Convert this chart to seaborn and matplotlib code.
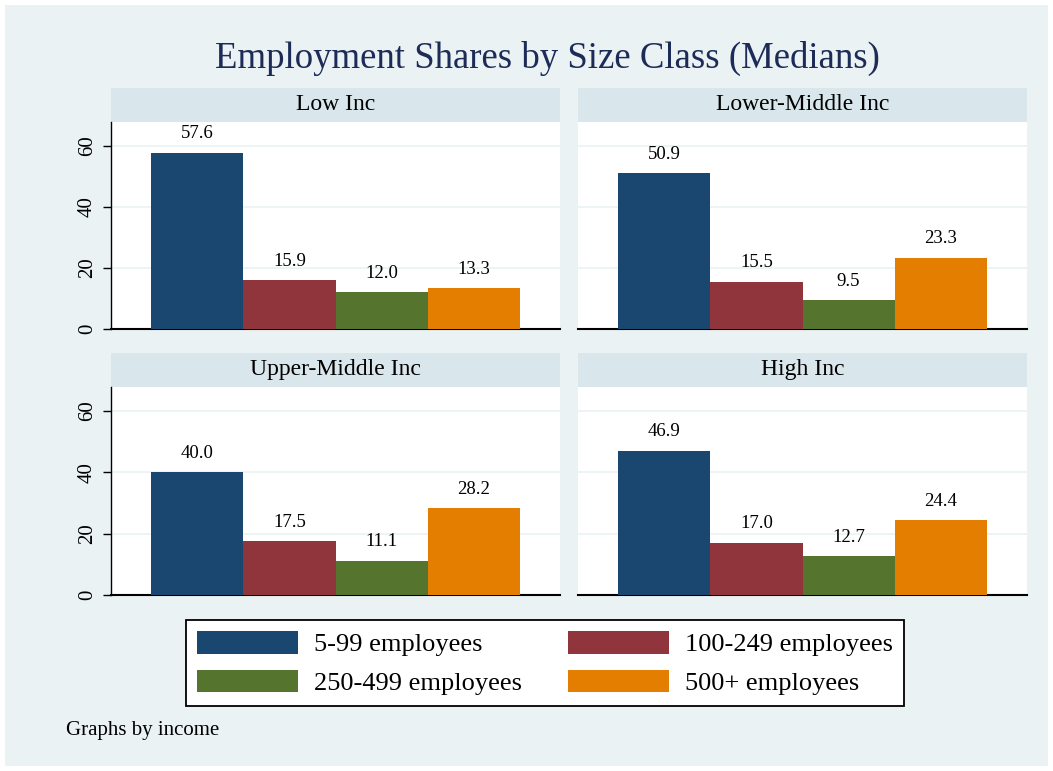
import matplotlib
matplotlib.use('Agg')
import matplotlib.pyplot as plt
import matplotlib.patches as mpatches
import pandas as pd
import seaborn as sns

sns.set_style('white')
plt.rcParams['font.family'] = ['Liberation Serif', 'DejaVu Serif']
plt.rcParams['text.color'] = 'black'
plt.rcParams['ytick.color'] = 'black'

# data
incomes = ['Low Inc', 'Lower-Middle Inc', 'Upper-Middle Inc', 'High Inc']
size_classes = ['5-99 employees', '100-249 employees', '250-499 employees', '500+ employees']
shares = {
    'Low Inc': [57.6, 15.9, 12.0, 13.3],
    'Lower-Middle Inc': [50.9, 15.5, 9.5, 23.3],
    'Upper-Middle Inc': [40.0, 17.5, 11.1, 28.2],
    'High Inc': [46.9, 17.0, 12.7, 24.4],
}
colors = ['#1a476f', '#90353b', '#55752f', '#e37e00']
yticks = [0, 20, 40, 60]

rows = []
for inc in incomes:
    for sc, v in zip(size_classes, shares[inc]):
        rows.append({'income': inc, 'size': sc, 'share': v})
df = pd.DataFrame(rows)

W, H = 1053, 771
fig = plt.figure(figsize=(W / 100, H / 100), dpi=100, facecolor='white')
bg = mpatches.Rectangle((5 / W, 5 / H), 1043 / W, 761 / H, transform=fig.transFigure,
                        facecolor='#eaf2f3', edgecolor='none', zorder=-10)
fig.patches.append(bg)

def px_box(x0, y0, x1, y1):
    return [x0 / W, 1 - y1 / H, (x1 - x0) / W, (y1 - y0) / H]

cols = [(111, 560), (578, 1027)]
plots = [(122, 329), (387, 595)]
strips = [(88, 122), (353, 387)]
pal = dict(zip(size_classes, colors))

for i, inc in enumerate(incomes):
    r, c = divmod(i, 2)
    x0, x1 = cols[c]
    # strip
    sax = fig.add_axes(px_box(x0, strips[r][0], x1, strips[r][1]))
    sax.set_facecolor('#d9e6eb')
    for s in sax.spines.values():
        s.set_visible(False)
    sax.set_xticks([]); sax.set_yticks([])
    sax.text(0.5, 0.5, inc, ha='center', va='center', fontsize=17, transform=sax.transAxes)

    ax = fig.add_axes(px_box(x0, plots[r][0], x1, plots[r][1]))
    sub = df[df['income'] == inc]
    sns.barplot(data=sub, x='size', y='share', hue='size', palette=pal, order=size_classes,
                hue_order=size_classes, width=1.0, legend=False, ax=ax, saturation=1,
                errorbar=None, zorder=3)
    for p in ax.patches:
        p.set_edgecolor('none')
    for p, v in zip(ax.patches, shares[inc]):
        ax.annotate(f'{v:.1f}', (p.get_x() + p.get_width() / 2, p.get_height()),
                    xytext=(0, 7.5), textcoords='offset points', ha='center', va='bottom',
                    fontsize=13.5)
    ax.set_xlim(-0.5 - 0.44, 3.5 + 0.44)
    ax.set_ylim(0, 67.7)
    ax.set_facecolor('white')
    ax.set_yticks(yticks)
    ax.yaxis.grid(True, color='#eaf2f3', linewidth=1.2, zorder=0)
    ax.set_axisbelow(True)
    ax.set_xticks([])
    ax.set_xlabel(''); ax.set_ylabel('')
    ax.spines['top'].set_visible(False)
    ax.spines['right'].set_visible(False)
    ax.spines['bottom'].set_color('black')
    ax.spines['bottom'].set_linewidth(1.5)
    if c == 0:
        ax.spines['left'].set_color('black')
        ax.spines['left'].set_linewidth(1.0)
        ax.tick_params(axis='y', direction='out', length=6, width=1, left=True,
                       labelsize=15, pad=4, colors='black')
        for t in ax.get_yticklabels():
            t.set_rotation(90)
            t.set_va('center')
    else:
        ax.spines['left'].set_visible(False)
        ax.tick_params(axis='y', left=False, labelleft=False)

fig.text(547 / W, 1 - 58 / H, 'Employment Shares by Size Class (Medians)', ha='center', va='center',
         fontsize=26.5, color='#1c2b58')

handles = [mpatches.Patch(facecolor=col, edgecolor='none', label=lab)
           for col, lab in zip(colors, size_classes)]
# row-wise order like the original legend
order = [0, 2, 1, 3]
leg = fig.legend(handles=[handles[k] for k in order], ncol=2, loc='center',
                 bbox_to_anchor=(545 / W, 1 - 663 / H), fontsize=19, frameon=True,
                 fancybox=False, edgecolor='black', framealpha=1, handlelength=3.83,
                 handleheight=0.95, handletextpad=0.6, columnspacing=1.75, labelspacing=0.5,
                 borderpad=0.42)
leg.get_frame().set_linewidth(1.3)

fig.text(66 / W, 1 - 731 / H, 'Graphs by income', ha='left', va='center', fontsize=15)

fig.savefig('out.png', dpi=100, facecolor='white')
